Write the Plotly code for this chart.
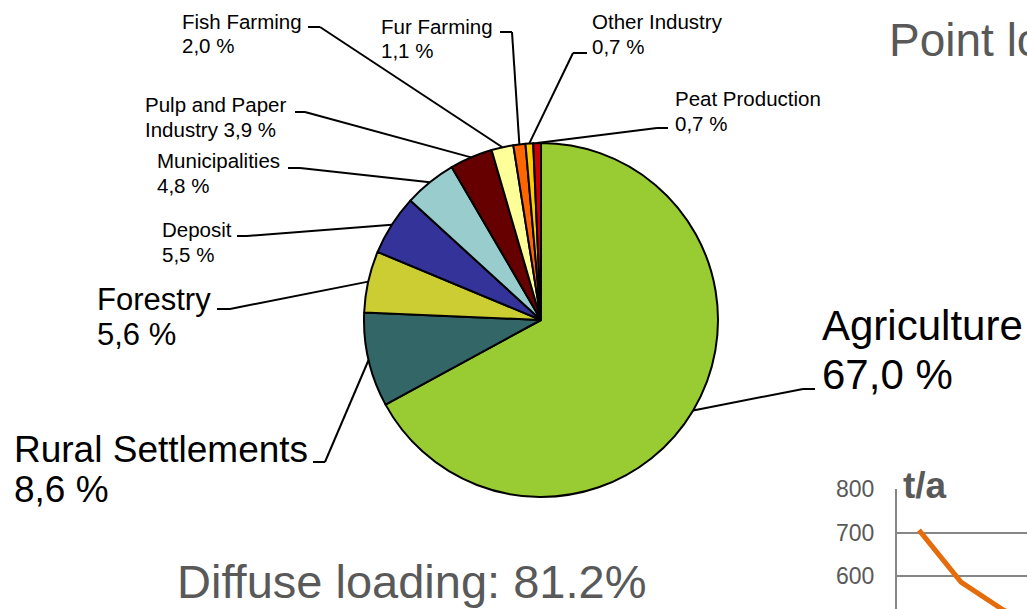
import math
import plotly.graph_objects as go

# ---------------- data ----------------
sources = ["Agriculture", "Rural Settlements", "Forestry", "Deposit", "Municipalities",
           "Pulp and Paper Industry", "Fish Farming", "Fur Farming", "Other Industry",
           "Peat Production"]
shares = [67.0, 8.6, 5.6, 5.5, 4.8, 3.9, 2.0, 1.1, 0.7, 0.7]
slice_colors = ["#99CC33", "#336666", "#CCCC33", "#333399", "#99CCCC",
                "#660000", "#FFFF99", "#FF6600", "#FFCC00", "#CC0000"]

diffuse_text = "Diffuse loading: 81.2%"
point_text = "Point loading: 18.8%"

trend_years = [0, 1, 2, 3]
trend_values = [706, 586, 522, 480]
trend_ticks = [600, 700, 800]

# ---------------- layout helpers ----------------
W, H = 1027, 609
def px(x):
    return x / W
def py(y):
    return 1 - y / H

CX, CY, R = 541, 320, 177  # pie centre / radius in px

FONT = "Liberation Sans, Arial, sans-serif"
GREY = "#595959"

# label layout: left x, first baseline, line gap, font size, tick y, tick x (text side), tick x (pie side)
label_layout = {
    "Agriculture": (820, 341, 49, 42, 389, 815, 803),
    "Rural Settlements": (12, 463, 40, 37, 462, 313, 325),
    "Forestry": (95, 311, 35, 31, 309, 217, 230),
    "Deposit": (160, 237, 25, 20.5, 236, 237, 247),
    "Municipalities": (155, 168, 25, 20.5, 168, 288, 300),
    "Pulp and Paper Industry": (143, 112, 25, 20.5, 112, 295, 305),
    "Fish Farming": (180, 29, 24, 20.5, 27, 308, 320),
    "Fur Farming": (379, 34, 24, 20.5, 32, 500, 512),
    "Other Industry": (590, 29, 25, 20.5, 53, 587, 573),
    "Peat Production": (673, 106, 25, 20.5, 128, 668, 657),
}

def fmt(v):
    return f"{v:.1f}".replace(".", ",") + " %"

fig = go.Figure()

fig.add_trace(go.Pie(
    labels=sources, values=shares, sort=False, direction="clockwise", rotation=0,
    marker=dict(colors=slice_colors, line=dict(color="black", width=2)),
    textinfo="none", hoverinfo="none", showlegend=False, automargin=False,
    domain=dict(x=[px(CX - R), px(CX + R)], y=[py(CY + R), py(CY - R)]),
))

fig.add_trace(go.Scatter(
    x=trend_years, y=trend_values, mode="lines",
    line=dict(color="#E46C0A", width=5), showlegend=False, hoverinfo="none",
    xaxis="x", yaxis="y",
))

annotations = []
shapes = []
total = sum(shares)
cum = 0.0
for name, v in zip(sources, shares):
    mid = (cum + v / 2) / total
    cum += v
    ang = 2 * math.pi * mid
    ex = CX + R * math.sin(ang)
    ey = CY - R * math.cos(ang)
    left, base, gap, size, ty, tx0, tx1 = label_layout[name]
    if name == "Pulp and Paper Industry":
        lines = ["Pulp and Paper", "Industry " + fmt(v)]
    else:
        lines = [name, fmt(v)]
    for i, t in enumerate(lines):
        b = base + i * gap
        annotations.append(dict(
            x=px(left), y=py(b - 0.36 * size), xref="paper", yref="paper",
            xanchor="left", yanchor="middle", text=t, showarrow=False,
            font=dict(family=FONT, size=size, color="black"),
        ))
    shapes.append(dict(type="line", xref="paper", yref="paper",
                       x0=px(tx0), y0=py(ty), x1=px(tx1), y1=py(ty),
                       line=dict(color="black", width=2)))
    shapes.append(dict(type="line", xref="paper", yref="paper",
                       x0=px(tx1), y0=py(ty), x1=px(ex), y1=py(ey),
                       line=dict(color="black", width=2)))

annotations.append(dict(x=px(175), y=py(598 - 0.36 * 47), xref="paper", yref="paper",
                        xanchor="left", yanchor="middle", text=diffuse_text, showarrow=False,
                        font=dict(family=FONT, size=47, color=GREY)))
annotations.append(dict(x=px(887), y=py(57 - 0.36 * 46), xref="paper", yref="paper",
                        xanchor="left", yanchor="middle", text=point_text, showarrow=False,
                        font=dict(family=FONT, size=46, color=GREY)))
annotations.append(dict(x=px(901), y=py(499 - 0.36 * 37), xref="paper", yref="paper",
                        xanchor="left", yanchor="middle", text="<b>t/a</b>", showarrow=False,
                        font=dict(family=FONT, size=37, color=GREY)))

fig.update_layout(
    width=W, height=H, margin=dict(l=0, r=0, t=0, b=0, pad=0, autoexpand=False),
    paper_bgcolor="white", plot_bgcolor="rgba(0,0,0,0)",
    annotations=annotations, shapes=shapes,
    xaxis=dict(domain=[px(897), 1.0], range=[-0.524, 2.571], showticklabels=False,
               showgrid=False, zeroline=False, showline=False, ticks="", automargin=False),
    yaxis=dict(domain=[0, py(489)], range=[524, 800.8], tickvals=trend_ticks,
               showgrid=True, gridcolor="#868686", gridwidth=1.5, zeroline=False,
               showline=True, linecolor="#868686", linewidth=2, ticks="",
               ticklabelstandoff=16, automargin=False,
               tickfont=dict(family=FONT, size=23, color=GREY)),
)

fig.write_html("out.html", config={"displayModeBar": False},
               post_script="document.body.style.margin='0';document.body.style.overflow='hidden';")
